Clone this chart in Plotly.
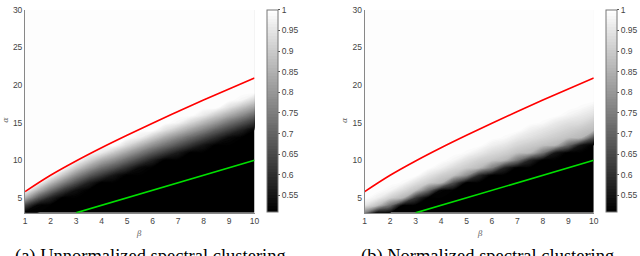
import plotly.graph_objects as go

# ---------------- data ----------------
beta = [1, 1.5, 2, 2.5, 3, 3.5, 4, 4.5, 5, 5.5, 6, 6.5, 7, 7.5, 8, 8.5, 9, 9.5, 10]
alpha = [3, 4, 5, 6, 7, 8, 9, 10, 11, 12, 13, 14, 15, 16, 17, 18, 19, 20,
         21, 22, 23, 24, 25, 26, 27, 28, 29, 30]

# accuracy, rows = alpha (3..30), columns = beta (1..10 step 0.5)
unnorm_acc = [
    [0.51] * 19,                                                                    # 3
    [0.64, 0.52] + [0.51] * 17,                                                     # 4
    [0.85, 0.69, 0.58] + [0.51] * 16,                                               # 5
    [1, 0.86, 0.73, 0.62, 0.54] + [0.51] * 14,                                      # 6
    [1, 1, 0.87, 0.76, 0.66, 0.57] + [0.51] * 13,                                   # 7
    [1, 1, 1, 0.89, 0.78, 0.69, 0.62, 0.55] + [0.51] * 11,                          # 8
    [1, 1, 1, 1, 0.90, 0.81, 0.73, 0.67, 0.60, 0.53] + [0.51] * 9,                  # 9
    [1] * 5 + [0.92, 0.84, 0.78, 0.71, 0.64, 0.57] + [0.51] * 8,                    # 10
    [1] * 6 + [0.96, 0.89, 0.82, 0.75, 0.68, 0.62, 0.56] + [0.51] * 6,              # 11
    [1] * 8 + [0.93, 0.86, 0.79, 0.73, 0.67, 0.61, 0.55] + [0.51] * 4,              # 12
    [1] * 9 + [0.97, 0.90, 0.83, 0.77, 0.71, 0.65, 0.59, 0.53, 0.51, 0.51],         # 13
    [1] * 11 + [0.94, 0.88, 0.82, 0.76, 0.69, 0.63, 0.57, 0.51],                    # 14
    [1] * 12 + [0.98, 0.92, 0.86, 0.80, 0.73, 0.67, 0.61],                          # 15
    [1] * 14 + [0.96, 0.90, 0.84, 0.78, 0.71],                                      # 16
    [1] * 16 + [0.94, 0.88, 0.82],                                                  # 17
    [1] * 17 + [0.98, 0.92],                                                        # 18
    [1] * 19, [1] * 19, [1] * 19, [1] * 19, [1] * 19, [1] * 19,                     # 19-24
    [1] * 19, [1] * 19, [1] * 19, [1] * 19, [1] * 19, [1] * 19,                     # 25-30
]

norm_acc = [
    [0.76, 0.52] + [0.51] * 17,                                                     # 3
    [0.95, 0.88, 0.73] + [0.51] * 16,                                               # 4
    [1, 0.97, 0.91, 0.86, 0.62] + [0.51] * 14,                                      # 5
    [1, 1, 0.98, 0.93, 0.88, 0.72, 0.52] + [0.51] * 12,                             # 6
    [1, 1, 1, 0.99, 0.94, 0.90, 0.86, 0.66] + [0.51] * 11,                          # 7
    [1] * 5 + [0.95, 0.91, 0.88, 0.79, 0.59] + [0.51] * 9,                          # 8
    [1] * 6 + [0.97, 0.93, 0.90, 0.87, 0.76, 0.58] + [0.51] * 7,                    # 9
    [1] * 7 + [0.98, 0.94, 0.91, 0.89, 0.86, 0.74, 0.58] + [0.51] * 5,              # 10
    [1] * 8 + [0.99, 0.96, 0.93, 0.91, 0.88, 0.86, 0.74, 0.55] + [0.51] * 3,        # 11
    [1] * 10 + [0.97, 0.95, 0.92, 0.90, 0.88, 0.86, 0.71, 0.55, 0.51],              # 12
    [1] * 11 + [0.99, 0.96, 0.94, 0.92, 0.90, 0.88, 0.86, 0.67],                    # 13
    [1] * 13 + [0.97, 0.95, 0.93, 0.91, 0.89, 0.87],                                # 14
    [1] * 14 + [0.99, 0.96, 0.94, 0.93, 0.90],                                      # 15
    [1] * 16 + [0.98, 0.96, 0.94],                                                  # 16
    [1] * 17 + [0.99, 0.97],                                                        # 17
    [1] * 19, [1] * 19, [1] * 19, [1] * 19, [1] * 19, [1] * 19, [1] * 19,           # 18-24
    [1] * 19, [1] * 19, [1] * 19, [1] * 19, [1] * 19, [1] * 19,                     # 25-30
]

# threshold curves
red_beta = [1, 2, 3, 4, 5, 6, 7, 8, 9, 10]
red_alpha = [5.83, 8.0, 9.9, 11.66, 13.32, 14.93, 16.48, 18.0, 19.49, 20.94]
green_beta = [3, 10]
green_alpha = [3, 10]

x_ticks = [1, 2, 3, 4, 5, 6, 7, 8, 9, 10]
y_ticks = [5, 10, 15, 20, 25, 30]
cb_ticks = [0.55, 0.6, 0.65, 0.7, 0.75, 0.8, 0.85, 0.9, 0.95, 1]
cb_labels = ["0.55", "0.6", "0.65", "0.7", "0.75", "0.8", "0.85", "0.9", "0.95", "1"]
captions = ["(a) Unnormalized spectral clustering", "(b) Normalized spectral clustering"]

# ---------------- layout helpers (pixels) ----------------
W, H = 640, 256
def px(x):
    return x / W
def py(y):
    return 1 - y / H

TOP, BOT = 5, 212
panels = [
    dict(xl=23.3, xr=255.3, cb=267.7, cap=150, blab=139, alab=4),
    dict(xl=366.7, xr=598.3, cb=610.7, cap=491, blab=483, alab=347),
]
tick_font = dict(family="Liberation Sans, Arial", size=8.5, color="#444444")
gray = [[0, "#000000"], [1, "#ffffff"]]

fig = go.Figure()
annotations = []
for i, (p, z) in enumerate(zip(panels, [unnorm_acc, norm_acc])):
    xa = "x" if i == 0 else "x2"
    ya = "y" if i == 0 else "y2"
    fig.add_trace(go.Contour(
        x=beta, y=alpha, z=z, zmin=0.51, zmax=1, zauto=False,
        colorscale=gray, xaxis=xa, yaxis=ya, hoverinfo="skip",
        contours=dict(start=0.51, end=1.0, size=0.007, coloring="fill",
                      showlines=False),
        line=dict(width=0, smoothing=1.0),
        colorbar=dict(
            x=px(p["cb"]), xanchor="left", xpad=0,
            y=py(211), yanchor="bottom", ypad=0,
            len=(211 - 4.5) / H, lenmode="fraction",
            thickness=10.6, thicknessmode="pixels",
            outlinewidth=1, outlinecolor="#777777",
            tickvals=cb_ticks, ticktext=cb_labels,
            ticks="outside", ticklen=2, tickcolor="#555555",
            tickfont=tick_font, ticklabeloverflow="allow",
        ),
    ))
    fig.add_trace(go.Scatter(
        x=red_beta, y=red_alpha, mode="lines", xaxis=xa, yaxis=ya,
        line=dict(color="#ff0000", width=1.6, shape="spline"),
        showlegend=False, hoverinfo="skip"))
    fig.add_trace(go.Scatter(
        x=green_beta, y=green_alpha, mode="lines", xaxis=xa, yaxis=ya,
        line=dict(color="#00e000", width=1.6),
        showlegend=False, hoverinfo="skip"))

    axis_common = dict(showgrid=False, zeroline=False, showline=True,
                       linecolor="#888888", linewidth=1, ticks="",
                       tickfont=tick_font, ticklabeloverflow="allow")
    fig.update_layout(**{
        ("xaxis" if i == 0 else "xaxis2"): dict(
            domain=[px(p["xl"]), px(p["xr"])], range=[1, 10],
            tickvals=x_ticks, anchor=ya, **axis_common),
        ("yaxis" if i == 0 else "yaxis2"): dict(
            domain=[py(BOT), py(TOP)], range=[3, 30],
            tickvals=y_ticks, anchor=xa, **axis_common),
    })

    annotations.append(dict(
        x=px(p["blab"]), y=py(233), xref="paper", yref="paper",
        text="<i>β</i>", showarrow=False, xanchor="center", yanchor="middle",
        font=dict(family="DejaVu Serif", size=8, color="#666666")))
    annotations.append(dict(
        x=px(p["alab"]), y=py(117), xref="paper", yref="paper",
        text="<i>α</i>", showarrow=False, xanchor="center", yanchor="middle",
        textangle=-90,
        font=dict(family="DejaVu Serif", size=8, color="#666666")))
    annotations.append(dict(
        x=px(p["cap"]), y=py(257), xref="paper", yref="paper",
        text=captions[i], showarrow=False, xanchor="center", yanchor="middle",
        font=dict(family="Liberation Serif", size=18.5, color="#000000")))

fig.update_layout(
    width=W, height=H, autosize=False,
    margin=dict(l=0, r=0, t=0, b=0, pad=0),
    paper_bgcolor="white", plot_bgcolor="white",
    showlegend=False, annotations=annotations,
)

fig.write_html("out.html", post_script="document.body.style.margin='0';",
               config={"displayModeBar": False})
